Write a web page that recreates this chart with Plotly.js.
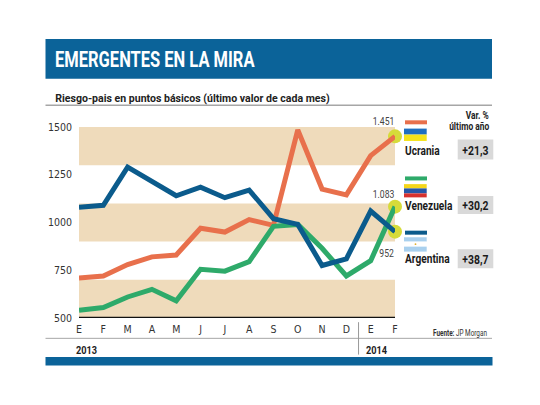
<!DOCTYPE html>
<html><head><meta charset="utf-8">
<script src="https://cdn.plot.ly/plotly-3.0.1.min.js"></script>
<style>html,body{margin:0;padding:0;background:#fff}#chart{width:540px;height:405px}</style>
</head><body><div id="chart"></div>
<script>
const months = ['E','F','M','A','M','J','J','A','S','O','N','D','E','F'];
const years = ['2013','2014'];
const ucrania   = [710,720,780,820,830,970,950,1015,985,1485,1175,1145,1350,1451];
const venezuela = [540,555,610,650,590,755,745,795,980,990,865,720,800,1083];
const argentina = [1080,1090,1290,1215,1140,1185,1130,1170,1020,990,775,810,1060,952];
const countries = ['Ucrania','Venezuela','Argentina'];
const lastLabels = ['1.451','1.083','952'];
const variations = ['+21,3','+30,2','+38,7'];
const yTicks = [500,750,1000,1250,1500];
const bands = [[500,700],[900,1100],[1300,1500]];

const FONT = 'Roboto, Liberation Sans, sans-serif';
const TFONT = 'DejaVu Sans Condensed, Roboto, sans-serif';
const L=79, R=395, T=126.7, B=318.3;
const px = x => (x-L)/(R-L);
const py = y => (B-y)/(B-T);
const xs = months.map((m,i)=>i);

const cOr='#e8704c', cGr='#2eaa6a', cBl='#0b5b8c', cDot='#d6db3a';

const traces = [];
traces.push({x:[13,13,13], y:[ucrania[13],venezuela[13],argentina[13]], mode:'markers',
  marker:{size:14,color:cDot,line:{width:0}}, cliponaxis:false, hoverinfo:'skip', showlegend:false});
[[ucrania,cOr],[venezuela,cGr],[argentina,cBl]].forEach(([d,c])=>{
  traces.push({x:xs,y:d,mode:'lines',line:{color:c,width:5,shape:'linear'},cliponaxis:false,showlegend:false,hoverinfo:'skip'});
});

const shapes = [];
bands.forEach(b=>shapes.push({type:'rect',xref:'x',yref:'y',x0:0,x1:13,y0:b[0],y1:b[1],fillcolor:'#efdbbb',line:{width:0},layer:'below'}));
shapes.push({type:'rect',xref:'paper',yref:'paper',x0:px(45.5),x1:px(492),y0:py(78.3),y1:py(38.3),fillcolor:'#0b6399',line:{width:0}});
shapes.push({type:'line',xref:'paper',yref:'paper',x0:px(45.5),x1:px(492),y0:py(105),y1:py(105),line:{color:'#a6a6a6',width:1.5}});
shapes.push({type:'line',xref:'x',yref:'y',x0:0,x1:13,y0:500,y1:500,line:{color:'#111',width:2.5}});
shapes.push({type:'line',xref:'paper',yref:'paper',x0:px(45.5),x1:px(492),y0:py(338.7),y1:py(338.7),line:{color:'#a6a6a6',width:1}});
shapes.push({type:'line',xref:'x',yref:'paper',x0:11.5,x1:11.5,y0:py(322.5),y1:py(355),line:{color:'#999',width:1}});
shapes.push({type:'rect',xref:'paper',yref:'paper',x0:px(45.5),x1:px(492.5),y0:py(366),y1:py(357.3),fillcolor:'#0b6399',line:{width:0}});

const legY = [122,178.3,232.7];
[cOr,cGr,cBl].forEach((c,i)=>shapes.push({type:'line',xref:'paper',yref:'paper',x0:px(405),x1:px(427),y0:py(legY[i]),y1:py(legY[i]),line:{color:c,width:4}}));
function rect(x0,x1,y0,y1,col){shapes.push({type:'rect',xref:'paper',yref:'paper',x0:px(x0),x1:px(x1),y0:py(y1),y1:py(y0),fillcolor:col,line:{width:0}});}
rect(404,426.7,128.3,134.3,'#1f6fc0'); rect(404,426.7,134.3,140.7,'#f5e31a');
rect(404,426.7,184,188.3,'#f5d61a'); rect(404,426.7,188.3,193.3,'#2557a8'); rect(404,426.7,193.3,197.3,'#d6312f');
rect(404,426.7,237.3,241.7,'#a9d0ee'); rect(404,426.7,241.7,246.7,'#ffffff'); rect(404,426.7,246.7,251.7,'#a9d0ee');
shapes.push({type:'circle',xref:'paper',yref:'paper',x0:px(414.6),x1:px(416.4),y0:py(245.1),y1:py(243.3),fillcolor:'#e0b030',line:{width:0}});
const boxY = [[139.3,159.3],[196,214],[249.3,268.3]];
boxY.forEach(b=>rect(457.7,493.3,b[0],b[1],'#d9d9d9'));

const ann = [], squeeze = [];
function A(text,x,y,opts,sq){ann.push(Object.assign({text:text,xref:'paper',yref:'paper',x:px(x),y:py(y),showarrow:false,xanchor:'left',yanchor:'middle',font:{family:FONT,size:10,color:'#222'}},opts||{})); squeeze.push(sq||0.8);}
A('<b>EMERGENTES EN LA MIRA</b>',53,58.5,{font:{family:FONT,size:22,color:'#fff'}},0.75);
A('<b>Riesgo-pais en puntos básicos (último valor de cada mes)</b>',53,97.5,{font:{family:FONT,size:11.5,color:'#222'}},0.92);
A('<b>Var. %</b>',490.5,115,{xanchor:'right',font:{family:FONT,size:10.5,color:'#222'}},0.8);
A('<b>último año</b>',490.5,126.5,{xanchor:'right',font:{family:FONT,size:10.5,color:'#222'}},0.8);
const lblY=[120.7,194.3,253.3], nameY=[150,205,258.3];
countries.forEach((c,i)=>{
  A('<b>'+c+'</b>',403,nameY[i],{font:{family:FONT,size:13,color:'#1a1a1a'}},0.78);
  A(lastLabels[i],396,lblY[i],{xanchor:'right',font:{family:FONT,size:10.5,color:'#444'}},0.82);
  A('<b>'+variations[i]+'</b>',475.5,(boxY[i][0]+boxY[i][1])/2+0.5,{xanchor:'center',font:{family:FONT,size:13,color:'#1a1a1a'}},0.8);
});
A('<b>Fuente:</b> JP Morgan',489,333,{xanchor:'right',font:{family:FONT,size:8.5,color:'#333'}},0.75);
A('<b>'+years[0]+'</b>',74,350.5,{font:{family:FONT,size:11.5,color:'#222'}},0.8);
A('<b>'+years[1]+'</b>',364,350.5,{font:{family:FONT,size:11.5,color:'#222'}},0.8);

const layout = {
  width:540,height:405,paper_bgcolor:'#fff',plot_bgcolor:'rgba(0,0,0,0)',
  margin:{l:L,r:540-R,t:T,b:405-B,pad:0},
  showlegend:false,
  xaxis:{range:[0,13],tickvals:xs,ticktext:months,showgrid:false,zeroline:false,showline:false,ticks:'',
    tickfont:{family:TFONT,size:10.5,color:'#333'},fixedrange:true,ticklabelstandoff:3},
  yaxis:{range:[500,1500],tickvals:yTicks,showgrid:false,zeroline:false,showline:false,ticks:'',
    tickfont:{family:TFONT,size:10.5,color:'#333'},fixedrange:true,ticklabelstandoff:6},
  shapes:shapes, annotations:ann
};
Plotly.newPlot('chart',traces,layout,{staticPlot:true,displayModeBar:false}).then(gd=>{
  gd.querySelectorAll('.annotation').forEach(g=>{
    const i = +g.getAttribute('data-index');
    const t = g.querySelector('.annotation-text');
    if(!t || isNaN(i)) return;
    const xa = ann[i].xanchor;
    t.style.transformBox='fill-box';
    t.style.transformOrigin = xa==='left'?'left center':(xa==='right'?'right center':'center center');
    t.style.transform='scaleX('+squeeze[i]+')';
  });
});
</script></body></html>
